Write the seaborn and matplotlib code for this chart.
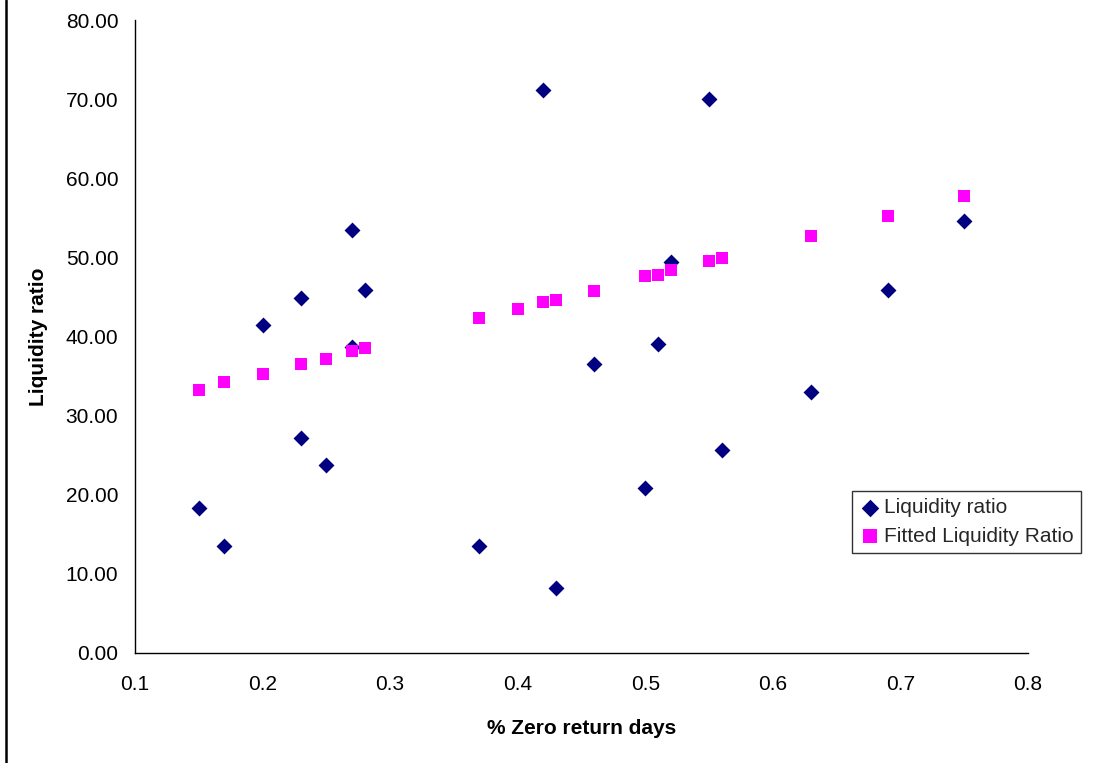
import matplotlib
matplotlib.use("Agg")
import matplotlib.pyplot as plt
import seaborn as sns
import pandas as pd
from matplotlib.lines import Line2D
from matplotlib.ticker import FormatStrFormatter, MultipleLocator

# Observed liquidity ratio
obs_x = [0.15, 0.17, 0.20, 0.23, 0.23, 0.25, 0.27, 0.27, 0.28, 0.37, 0.42,
         0.43, 0.46, 0.50, 0.51, 0.52, 0.55, 0.56, 0.63, 0.69, 0.75]
obs_y = [18.35, 13.5, 41.4, 44.9, 27.2, 23.7, 53.5, 38.7, 45.9, 13.5, 71.2,
         8.2, 36.5, 20.9, 39.1, 49.4, 70.0, 25.7, 33.0, 45.9, 54.6]

# Fitted liquidity ratio
fit_x = [0.15, 0.17, 0.20, 0.23, 0.25, 0.27, 0.28, 0.37, 0.40, 0.42, 0.43,
         0.46, 0.50, 0.51, 0.52, 0.55, 0.56, 0.63, 0.69, 0.75]
fit_y = [33.2, 34.2, 35.2, 36.5, 37.2, 38.2, 38.5, 42.4, 43.5, 44.3, 44.6,
         45.8, 47.6, 47.8, 48.4, 49.6, 49.9, 52.7, 55.2, 57.7]

series_names = ["Liquidity ratio", "Fitted Liquidity Ratio"]
x_label = "% Zero return days"
y_label = "Liquidity ratio"

sns.set_theme(style="white")
plt.rcParams["font.family"] = ["Liberation Sans", "DejaVu Sans"]

fig = plt.figure(figsize=(11.07, 7.63), dpi=100)
ax = fig.add_axes([135 / 1107, 1 - 653 / 763, (1028 - 135) / 1107, (653 - 20) / 763])

df_obs = pd.DataFrame({"x": obs_x, "y": obs_y})
df_fit = pd.DataFrame({"x": fit_x, "y": fit_y})

sns.scatterplot(data=df_obs, x="x", y="y", ax=ax, marker="D", s=66,
                color="#000080", linewidth=0, label=series_names[0], zorder=3)
sns.scatterplot(data=df_fit, x="x", y="y", ax=ax, marker="s", s=82,
                color="#FF00FF", linewidth=0, label=series_names[1], zorder=4)

ax.set_xlim(0.1, 0.8)
ax.set_ylim(0, 80)
ax.xaxis.set_major_locator(MultipleLocator(0.1))
ax.yaxis.set_major_locator(MultipleLocator(10))
ax.xaxis.set_major_formatter(FormatStrFormatter("%.1f"))
ax.yaxis.set_major_formatter(FormatStrFormatter("%.2f"))

for side in ["top", "right"]:
    ax.spines[side].set_visible(False)
for side in ["left", "bottom"]:
    ax.spines[side].set_color("black")
    ax.spines[side].set_linewidth(1.0)

ax.tick_params(axis="both", which="major", direction="out", length=5, width=1,
               color="black", labelsize=15, labelcolor="black")
ax.tick_params(axis="x", pad=11)
ax.tick_params(axis="y", pad=7)
ax.grid(False)

label_font = dict(family=["Liberation Sans", "DejaVu Sans"],
                  fontsize=15, fontweight="bold", color="black")
ax.set_xlabel(x_label, labelpad=18, **label_font)
ax.set_ylabel(y_label, labelpad=13, **label_font)

leg = ax.legend(loc="upper left", bbox_to_anchor=(0.803, 0.256), frameon=True,
                fancybox=False, edgecolor="black", fontsize=15,
                handletextpad=0.2, handlelength=1.0, borderpad=0.35,
                labelspacing=0.45, borderaxespad=0, markerscale=1.1)
leg.get_frame().set_linewidth(1.0)

fig.add_artist(Line2D([5.5 / 1107, 5.5 / 1107], [0, 1], color="black",
                      linewidth=1.8, transform=fig.transFigure))

fig.savefig("out.png", dpi=100, facecolor="white")
